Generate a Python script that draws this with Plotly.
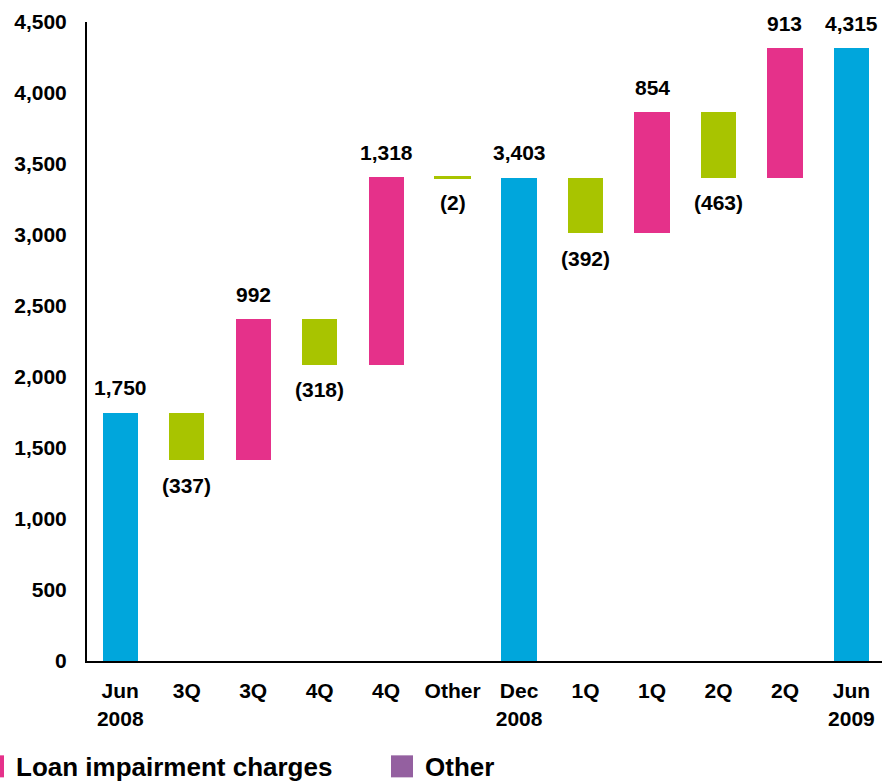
import plotly.graph_objects as go

# Bridge of loan impairment allowance, Jun 2008 -> Jun 2009
categories = ["Jun<br>2008", "3Q", "3Q", "4Q", "4Q", "Other", "Dec<br>2008",
              "1Q", "1Q", "2Q", "2Q", "Jun<br>2009"]
values = [1750, -337, 992, -318, 1318, -2, 3403, -392, 854, -463, 913, 4315]
kinds = ["total", "write", "charge", "write", "charge", "write", "total",
         "write", "charge", "write", "charge", "total"]
y_ticks = [0, 500, 1000, 1500, 2000, 2500, 3000, 3500, 4000, 4500]
legend_items = ["Loan impairment charges", "Other"]

palette = {"total": "#00A6DC", "write": "#A8C400", "charge": "#E5318A"}
legend_colors = ["#E5318A", "#9460A0"]

FONT = "Liberation Sans, Arial, sans-serif"
FS = 21

# Running position of each step
bases, heights, tops, bottoms = [], [], [], []
level = 0
for v, k in zip(values, kinds):
    if k == "total":
        b, h = 0, v
        level = v
    else:
        b, h = level, v
        level = level + v
    bases.append(b)
    heights.append(h)
    tops.append(max(b, b + h))
    bottoms.append(min(b, b + h))

x = list(range(len(categories)))
colors = [palette[k] for k in kinds]
line_w = [2 if abs(v) < 20 else 0 for v in values]

fig = go.Figure()
fig.add_trace(go.Bar(
    x=x, y=heights, base=bases, width=0.53,
    marker=dict(color=colors, line=dict(color=colors, width=line_w)),
    showlegend=False, hoverinfo="skip",
))

def fmt(v):
    return f"{v:,}" if v >= 0 else f"({-v:,})"

for xi, v, t, b in zip(x, values, tops, bottoms):
    if v >= 0:
        fig.add_annotation(x=xi, y=t, text=fmt(v), showarrow=False,
                           yanchor="middle", yshift=25,
                           font=dict(family=FONT, size=FS, color="black", weight="bold"))
    else:
        fig.add_annotation(x=xi, y=b, text=fmt(v), showarrow=False,
                           yanchor="middle", yshift=-25,
                           font=dict(family=FONT, size=FS, color="black", weight="bold"))

# Legend drawn below the axis
L, PW = 87, 795
T, PH = 660.7, 638.7
def px(p):
    return (p - L) / PW
def py(p):
    return (T - p) / PH

legend_x = [-18, 391]
for lx, name, c in zip(legend_x, legend_items, legend_colors):
    fig.add_shape(type="rect", xref="paper", yref="paper",
                  x0=px(lx), x1=px(lx + 22), y0=py(777), y1=py(755),
                  fillcolor=c, line=dict(width=0))
    fig.add_annotation(xref="paper", yref="paper", x=px(lx + 32), y=py(767),
                       text=name, showarrow=False, xanchor="left", yanchor="middle",
                       font=dict(family=FONT, size=26, color="black", weight="bold"))

fig.update_layout(
    width=882, height=782,
    margin=dict(l=87, r=0, t=22, b=121.3),
    paper_bgcolor="white", plot_bgcolor="white",
    font=dict(family=FONT, size=FS, color="black", weight="bold"),
    bargap=0,
)
fig.update_xaxes(
    range=[-0.5, 11.46], tickvals=x, ticktext=categories,
    showline=True, linecolor="black", linewidth=2, ticks="",
    showgrid=False, zeroline=False, ticklabelstandoff=10,
    tickfont=dict(family=FONT, size=FS, color="black", weight="bold"),
)
fig.update_yaxes(
    range=[0, 4500], tickvals=y_ticks, tickformat=",",
    showline=True, linecolor="black", linewidth=2, ticks="",
    showgrid=False, zeroline=False, ticklabelstandoff=14,
    tickfont=dict(family=FONT, size=FS, color="black", weight="bold"),
)

fig.write_html("out.html")
